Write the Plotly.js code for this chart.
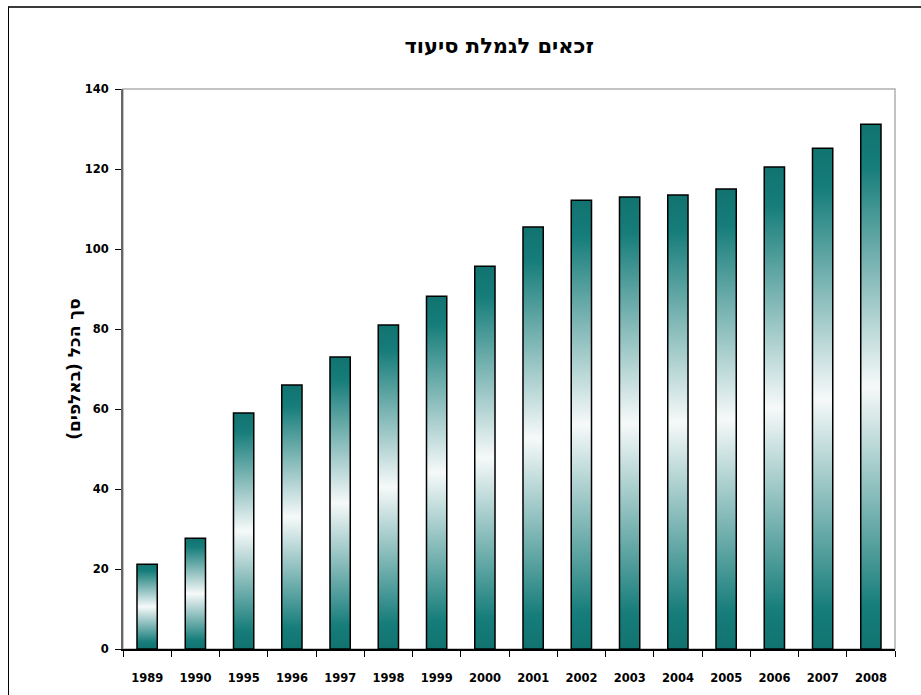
<!DOCTYPE html>
<html>
<head>
<meta charset="utf-8">
<script src="https://cdn.plot.ly/plotly-3.0.1.min.js"></script>
<style>
  html, body { margin: 0; padding: 0; background: #fff; overflow: hidden; }
  #chart { position: absolute; left: 0; top: 0; width: 921px; height: 695px; }
  #frame { position: absolute; left: 8px; top: 6px; width: 1000px; height: 800px;
           border-top: 2px solid #3a3a3a; border-left: 1.5px solid #000; pointer-events: none; }
</style>
</head>
<body>
<div id="chart"></div>
<div id="frame"></div>
<script>
const chartTitle = "זכאים לגמלת סיעוד";
const yTitle = "\u200Fסך הכל (באלפים)\u200F";
const years = ["1989","1990","1995","1996","1997","1998","1999","2000","2001","2002","2003","2004","2005","2006","2007","2008"];
const values = [21.2, 27.7, 59, 66, 73, 81, 88.2, 95.7, 105.5, 112.2, 113, 113.5, 115, 120.5, 125.2, 131.2];
const yTicks = [0, 20, 40, 60, 80, 100, 120, 140];

const teal = "#167d7a";
const tealDark = "#117370";
const fontFam = "DejaVu Sans, Verdana, sans-serif";

const trace = {
  type: "bar",
  x: years,
  y: values,
  marker: { color: teal, line: { color: "#000", width: 1.5 } },
  hoverinfo: "x+y"
};

const layout = {
  width: 921, height: 695,
  margin: { l: 123, r: 26, t: 89, b: 46 },
  paper_bgcolor: "#fff", plot_bgcolor: "#fff",
  bargap: 0.58,
  showlegend: false,
  title: {
    text: "<b>" + chartTitle + "</b>",
    font: { family: fontFam, size: 21, color: "#000" },
    xref: "container", x: 0.542, xanchor: "center",
    yref: "container", y: 0.935, yanchor: "middle"
  },
  xaxis: {
    type: "category",
    tickson: "boundaries",
    ticks: "outside", ticklen: 6, tickwidth: 1, tickcolor: "#000",
    showline: true, linecolor: "#000", linewidth: 1.5,
    showgrid: false, zeroline: false,
    ticklabelstandoff: 18,
    tickfont: { family: fontFam, size: 11.5, color: "#000", weight: "bold" }
  },
  yaxis: {
    range: [0, 140],
    tickvals: yTicks,
    ticks: "outside", ticklen: 6, tickwidth: 1, tickcolor: "#000",
    showline: true, linecolor: "#666", linewidth: 2,
    showgrid: false, zeroline: false,
    ticklabelstandoff: 4,
    tickfont: { family: fontFam, size: 11.5, color: "#000", weight: "bold" },
    title: {
      text: "<b>" + yTitle + "</b>",
      font: { family: fontFam, size: 17, color: "#000" },
      standoff: 0
    }
  },
  shapes: [{
    type: "rect", xref: "paper", yref: "paper", x0: 0, x1: 1, y0: 0, y1: 1,
    line: { color: "#b0b0b0", width: 1.5 }, layer: "below"
  }]
};

Plotly.newPlot("chart", [trace], layout, { displayModeBar: false, staticPlot: true }).then(function (gd) {
  const svg = gd.querySelector("svg.main-svg");
  const ns = "http://www.w3.org/2000/svg";
  let defs = svg.querySelector("defs");
  if (!defs) { defs = document.createElementNS(ns, "defs"); svg.insertBefore(defs, svg.firstChild); }
  const grad = document.createElementNS(ns, "linearGradient");
  grad.setAttribute("id", "barGrad");
  grad.setAttribute("x1", "0"); grad.setAttribute("y1", "0");
  grad.setAttribute("x2", "0"); grad.setAttribute("y2", "1");
  [[0, tealDark], [0.08, teal], [0.5, "#f6f9f9"], [0.92, teal], [1, tealDark]].forEach(function (s) {
    const st = document.createElementNS(ns, "stop");
    st.setAttribute("offset", s[0]);
    st.setAttribute("stop-color", s[1]);
    grad.appendChild(st);
  });
  defs.appendChild(grad);
  gd.querySelectorAll(".trace.bars .point path").forEach(function (p) {
    p.style.fill = "url(#barGrad)";
  });
});
</script>
</body>
</html>
